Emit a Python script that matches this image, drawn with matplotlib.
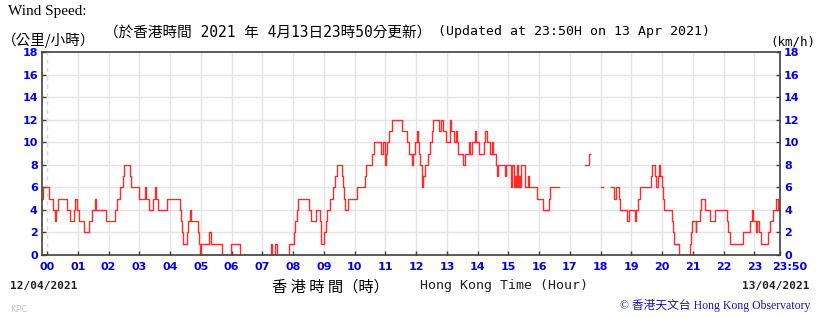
import numpy as np
import matplotlib
matplotlib.use("Agg")
import matplotlib.pyplot as plt
import matplotlib.transforms as mtransforms

nan = np.nan

# minutes after 00:00 13/04/2021 (step changes), and wind speed (km/h)
minutes = [-10, -9, 3, 11, 16, 18, 22, 39, 44, 52, 55, 58,
           62, 72, 81, 87, 93, 95, 114, 132, 137, 142, 148, 150, 161,
           163, 180, 191, 193, 198, 206, 211, 213, 217, 233,
           260, 262, 264, 266, 272, 274, 278, 280, 294, 296, 298,
           301, 316, 320, 341, 359, 376, 437, 439, 445, 449, 472,
           482, 484, 487, 490, 511, 514, 524, 532, 534, 535, 541, 544, 547,
           552, 558, 562, 565, 576, 578, 580, 582, 588,
           604, 620, 622, 633, 637, 652, 655, 659, 661, 664, 667, 672,
           692, 703, 706, 711, 713, 717, 722, 724, 726, 728, 731, 734, 737,
           744, 747, 750, 753, 765, 768, 773, 778, 786, 788, 793, 797, 799,
           801, 812, 815, 823, 826, 829, 834, 837,
           843, 853, 855, 858, 865, 868, 870, 876, 878, 879, 893, 895,
           906, 908, 910, 912, 914, 916, 918, 920, 922, 924, 932, 933,
           939, 941, 955, 968, 979, 981, 999,
           1050, 1058, 1060, 1081, 1085,
           1100, 1107, 1110, 1116, 1118, 1132, 1135, 1147, 1149, 1153,
           1157, 1178, 1180, 1186, 1189, 1191, 1194, 1196, 1199, 1201, 1203,
           1219, 1221, 1223, 1232, 1254, 1256, 1259, 1266, 1267, 1273, 1275,
           1284, 1293, 1303, 1326, 1329, 1332, 1357, 1371, 1376, 1378,
           1384, 1386, 1389, 1392, 1407, 1410, 1416, 1422, 1426, 1430]
speed = [5, 6, 5, 4, 3, 4, 5, 4, 3, 4, 5, 4,
         3, 2, 3, 4, 5, 4, 3, 4, 5, 6, 7, 8, 7,
         6, 5, 6, 5, 4, 5, 6, 5, 4, 5,
         4, 3, 2, 1, 2, 3, 4, 3, 2, 1, 0,
         1, 2, 1, 0, 1, 0, 1, 0, 1, 0, 1,
         2, 3, 4, 5, 4, 3, 4, 3, 2, 1, 2, 3, 4,
         5, 6, 7, 8, 7, 6, 5, 4, 5,
         6, 7, 8, 9, 10, 9, 10, 8, 9, 10, 11, 12,
         11, 10, 9, 8, 9, 10, 11, 10, 9, 8, 6, 7, 8,
         9, 10, 11, 12, 11, 12, 11, 10, 12, 11, 10, 11, 10,
         9, 8, 9, 10, 9, 10, 11, 10,
         9, 10, 11, 10, 9, 10, 9, 8, 7, 8, 7, 8,
         6, 8, 6, 7, 6, 8, 6, 7, 6, 8, 7, 6,
         7, 6, 5, 4, 5, 6, nan,
         8, 9, nan, 6, nan,
         6, 5, 6, 5, 4, 3, 4, 3, 4, 5,
         6, 7, 8, 7, 6, 7, 8, 7, 6, 5, 4,
         3, 2, 1, 0, 1, 2, 3, 2, 3, 4, 5,
         4, 3, 4, 3, 2, 1, 2, 3, 4, 3,
         2, 3, 2, 1, 2, 3, 4, 5, 4, 4]

hour_labels = ["%02d" % h for h in range(24)] + ["23:50"]
hour_ticks = [h * 60 for h in range(24)] + [1430]
y_ticks = list(range(0, 19, 2))

blue = "#0000ee"
fig = plt.figure(figsize=(8.2, 3.17), dpi=100)
ax = fig.add_axes([42 / 820, 1 - 255 / 317, 738 / 820, 203 / 317])

# grid
for t in hour_ticks[1:-1]:
    ax.axvline(t, color="#e4e4e4", lw=1.0, zorder=0)
ax.axvline(0, color="#d8d8d8", lw=1.0, ls=(0, (3, 3)), zorder=0)
for y in y_ticks[1:-1]:
    ax.axhline(y, color="#e4e4e4", lw=1.0, zorder=0)

ax.plot(minutes, speed, drawstyle="steps-post", color="#ff2a2a", lw=1.0)

ax.set_xlim(-10, 1430)
ax.set_ylim(0, 18)
ax.set_xticks(hour_ticks)
ax.set_xticklabels(hour_labels)
ax.set_yticks(y_ticks)
for s in ax.spines.values():
    s.set_color("#404040")
    s.set_linewidth(1.2)
ax.tick_params(direction="in", length=3, width=1, color="#404040",
               labelcolor=blue, labelsize=8, pad=3,
               right=True, labelright=True)
ax.tick_params(axis="x", pad=5)
for lab in ax.get_xticklabels() + ax.get_yticklabels():
    lab.set_fontweight("bold")
for t in ax.yaxis.get_major_ticks():
    t.label2.set_fontweight("bold")
# push the last "23:50" label right so it clears "23"
last = ax.get_xticklabels()[-1]
last.set_transform(last.get_transform() +
                   mtransforms.ScaledTranslation(10 / 100, 0, fig.dpi_scale_trans))

cjk_mono = ["DejaVu Sans Mono", "Noto Sans CJK TC"]
fig.text(8 / 820, 1 - 12 / 317, "Wind Speed:", family="Liberation Serif",
         fontsize=11, va="center", ha="left")
fig.text(2 / 820, 1 - 40 / 317, "（公里/小時）", family="Noto Sans CJK TC",
         fontsize=10.5, va="center", ha="left")
fig.text(104 / 820, 1 - 32 / 317,
         "（於香港時間 2021 年 4月13日23時50分更新）",
         family=cjk_mono, fontsize=10.5, va="center", ha="left")
fig.text(438 / 820, 1 - 32 / 317, "(Updated at 23:50H on 13 Apr 2021)",
         family="DejaVu Sans Mono", fontsize=9.5, va="center", ha="left")
fig.text(815 / 820, 1 - 42 / 317, "(km/h)", family="DejaVu Sans Mono",
         fontsize=9, va="center", ha="right")

fig.text(10 / 820, 1 - 286 / 317, "12/04/2021", family="DejaVu Sans Mono",
         fontweight="bold", fontsize=8, va="center", ha="left", color="#202020")
fig.text(810 / 820, 1 - 286 / 317, "13/04/2021", family="DejaVu Sans Mono",
         fontweight="bold", fontsize=8, va="center", ha="right", color="#202020")
fig.text(272 / 820, 1 - 287 / 317, "香 港 時 間（時）", family="Noto Sans CJK TC",
         fontsize=11, va="center", ha="left")
fig.text(420 / 820, 1 - 286 / 317, "Hong Kong Time (Hour)", family="DejaVu Sans Mono",
         fontsize=9.5, va="center", ha="left", color="#202020")
fig.text(810 / 820, 1 - 305 / 317, "© 香港天文台 Hong Kong Observatory",
         family=["Liberation Serif", "Noto Sans CJK TC"], fontsize=8.5,
         va="center", ha="right", color="#1a1aa8")
fig.text(10 / 820, 1 - 309 / 317, "KPC", family="DejaVu Sans",
         fontsize=6.5, va="center", ha="left", color="#c8c8c8")

fig.savefig("out.png", dpi=100)
